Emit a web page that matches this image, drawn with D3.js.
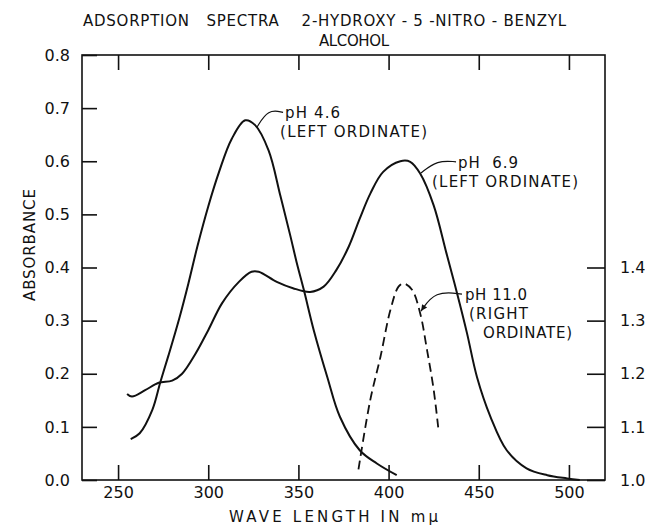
<!DOCTYPE html>
<html>
<head>
<meta charset="utf-8">
<script src="https://cdn.jsdelivr.net/npm/d3@7"></script>
<style>
  body { margin: 0; background: #fff; }
  svg text { font-family: "DejaVu Sans", sans-serif; fill: #111; }
</style>
</head>
<body>
<svg id="chart" width="645" height="527"></svg>
<script>
// wave length (m\u03bc) and absorbance
var wl46  = [257, 262, 269, 273.5, 278, 284, 289, 294, 300, 306, 313, 320.5, 326, 333.5, 340, 345.5, 349, 353, 358.5, 366, 373, 384, 393.5, 404.5];
var abs46 = [0.077, 0.088, 0.132, 0.185, 0.235, 0.305, 0.37, 0.44, 0.515, 0.58, 0.642, 0.677, 0.668, 0.62, 0.535, 0.46, 0.41, 0.358, 0.282, 0.194, 0.119, 0.056, 0.031, 0.009];

var wl69  = [255, 257.7, 265, 272.5, 280, 285.5, 293, 300, 307.7, 317, 324, 328, 338, 347, 356.5, 364, 371, 378, 384, 390, 397, 406.5, 412, 417.5, 425, 432, 438, 443.5, 449, 456.5, 465.5, 476.5, 488, 499, 506];
var abs69 = [0.162, 0.157, 0.169, 0.183, 0.187, 0.2, 0.238, 0.282, 0.333, 0.373, 0.392, 0.392, 0.373, 0.361, 0.354, 0.364, 0.395, 0.44, 0.492, 0.54, 0.58, 0.6, 0.599, 0.577, 0.517, 0.428, 0.351, 0.276, 0.194, 0.119, 0.056, 0.022, 0.009, 0.003, 0];

// pH 11.0 is read on the right ordinate
var wl110  = [383.3, 389.8, 395.5, 401, 405.5, 408.3, 413, 417.5, 421.3, 425, 427.8];
var abs110 = [1.02, 1.15, 1.232, 1.32, 1.364, 1.37, 1.358, 1.314, 1.245, 1.17, 1.09];

var xTicks = [250, 300, 350, 400, 450, 500];
var yTicksLeft = [0, 0.1, 0.2, 0.3, 0.4, 0.5, 0.6, 0.7, 0.8];
var yTicksRight = [1.0, 1.1, 1.2, 1.3, 1.4];

var svg = d3.select("#chart");
var L = 82, R = 605, T = 55, B = 480;

var x = d3.scaleLinear().domain([230, 520]).range([L, R]);
var yL = d3.scaleLinear().domain([0, 0.8]).range([B, T]);
var yR = d3.scaleLinear().domain([1.0, 1.8]).range([B, T]);

// frame
svg.append("rect")
    .attr("x", L).attr("y", T)
    .attr("width", R - L).attr("height", B - T)
    .attr("fill", "none").attr("stroke", "#111").attr("stroke-width", 1.6);

function styleAxis(g){
    g.select(".domain").remove();
    g.selectAll(".tick line").attr("stroke", "#111").attr("stroke-width", 1.6);
    g.selectAll(".tick text").attr("font-size", 16).attr("fill", "#111")
        .attr("font-family", "DejaVu Sans, sans-serif");
}

svg.append("g").attr("transform", "translate(0," + B + ")")
    .call(d3.axisBottom(x).tickValues(xTicks).tickSize(-15).tickPadding(7).tickFormat(d3.format("d")))
    .call(styleAxis);

svg.append("g").attr("transform", "translate(0," + T + ")")
    .call(d3.axisTop(x).tickValues(xTicks).tickSize(-15).tickFormat(""))
    .call(styleAxis);

svg.append("g").attr("transform", "translate(" + L + ",0)")
    .call(d3.axisLeft(yL).tickValues(yTicksLeft).tickSize(-15).tickPadding(12).tickFormat(d3.format(".1f")))
    .call(styleAxis);

svg.append("g").attr("transform", "translate(" + R + ",0)")
    .call(d3.axisRight(yR).tickValues(yTicksRight).tickSize(-18).tickPadding(15).tickFormat(d3.format(".1f")))
    .call(styleAxis);

// curves
var lineL = d3.line().x(function(d){ return x(d[0]); }).y(function(d){ return yL(d[1]); })
    .curve(d3.curveCatmullRom.alpha(0.5));
var lineR = d3.line().x(function(d){ return x(d[0]); }).y(function(d){ return yR(d[1]); })
    .curve(d3.curveCatmullRom.alpha(0.5));

svg.append("path").datum(d3.zip(wl46, abs46))
    .attr("d", lineL).attr("fill", "none").attr("stroke", "#111").attr("stroke-width", 2);
svg.append("path").datum(d3.zip(wl69, abs69))
    .attr("d", lineL).attr("fill", "none").attr("stroke", "#111").attr("stroke-width", 2);
svg.append("path").datum(d3.zip(wl110, abs110))
    .attr("d", lineR).attr("fill", "none").attr("stroke", "#111").attr("stroke-width", 1.8)
    .attr("stroke-dasharray", "9,5");

// titles
svg.append("text").attr("x", 83).attr("y", 26)
    .attr("font-size", 15).attr("textLength", 483).attr("lengthAdjust", "spacing")
    .style("white-space", "pre")
    .text("ADSORPTION   SPECTRA    2-HYDROXY - 5 -NITRO - BENZYL");
svg.append("text").attr("x", 319).attr("y", 46)
    .attr("font-size", 15).attr("textLength", 70).attr("lengthAdjust", "spacing")
    .text("ALCOHOL");

svg.append("text").attr("x", 229).attr("y", 522)
    .attr("font-size", 15).attr("textLength", 209).attr("lengthAdjust", "spacing")
    .style("white-space", "pre")
    .text("WAVE LENGTH IN m\u03bc");

svg.append("text")
    .attr("transform", "translate(35,245) rotate(-90)")
    .attr("text-anchor", "middle")
    .attr("font-size", 15)
    .attr("textLength", 112).attr("lengthAdjust", "spacing")
    .text("ABSORBANCE");

// curve labels, placed in data units
var notes = [
    {lines: [["pH 4.6", 342.6, 0.682, 55], ["(LEFT ORDINATE)", 339.8, 0.645, 147]],
     lead: [[341.5, 0.692], [333.2, 0.698], [327, 0.664]], arrow: false},
    {lines: [["pH  6.9", 438.5, 0.588, 60], ["(LEFT ORDINATE)", 424.1, 0.551, 146]],
     lead: [[437.4, 0.599], [427, 0.602], [418, 0.578]], arrow: false},
    {lines: [["pH 11.0", 442.4, 0.338, 62], ["(RIGHT", 444.6, 0.304, 59], ["ORDINATE)", 452.4, 0.268, 89]],
     lead: [[440.7, 0.35], [425.7, 0.356], [418, 0.318]], arrow: true}
];

var lead = d3.line().x(function(d){ return x(d[0]); }).y(function(d){ return yL(d[1]); })
    .curve(d3.curveBasis);

notes.forEach(function(n){
    n.lines.forEach(function(l){
        svg.append("text").attr("x", x(l[1])).attr("y", yL(l[2]))
            .attr("font-size", 15).attr("textLength", l[3]).attr("lengthAdjust", "spacing")
            .style("white-space", "pre")
            .text(l[0]);
    });
    svg.append("path").datum(n.lead).attr("d", lead)
        .attr("fill", "none").attr("stroke", "#111").attr("stroke-width", 1.2);
    if (n.arrow){
        var p = n.lead[n.lead.length - 1], q = n.lead[n.lead.length - 2];
        var px = x(p[0]), py = yL(p[1]);
        var a = Math.atan2(py - yL(q[1]), px - x(q[0]));
        var s = 7, w = 0.45;
        svg.append("path")
            .attr("d", "M" + px + "," + py +
                "L" + (px - s * Math.cos(a - w)) + "," + (py - s * Math.sin(a - w)) +
                "L" + (px - s * Math.cos(a + w)) + "," + (py - s * Math.sin(a + w)) + "Z")
            .attr("fill", "#111");
    }
});
</script>
</body>
</html>
